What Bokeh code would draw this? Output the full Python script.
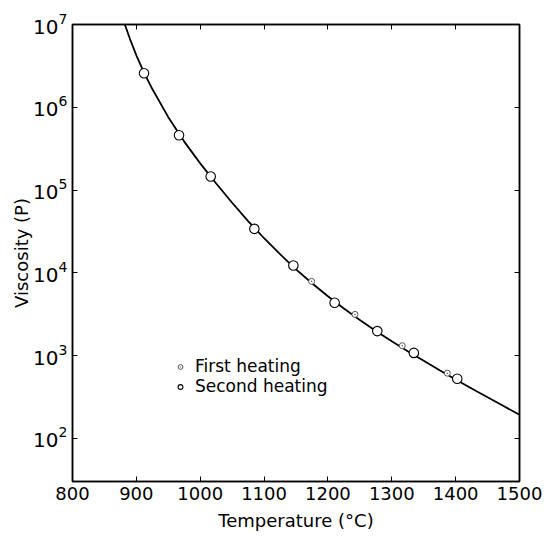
import math
from bokeh.plotting import figure
from bokeh.models import (FixedTicker, LinearAxis, LogAxis, Range1d, Legend, LegendItem,
                          CustomLabelingPolicy, ColumnDataSource)
from bokeh.core.properties import value
from bokeh.embed import file_html
from bokeh.resources import INLINE

# ---- data ----
first_T = [1174.5, 1242.3, 1316.4, 1386.9]
first_visc = [7.9e3, 3.15e3, 1.32e3, 6.15e2]

second_T = [912, 966.8, 1016.4, 1084.8, 1145.9, 1210.5, 1277.3, 1334.6, 1402.5]
second_visc = [2.58e6, 4.6e5, 1.46e5, 3.4e4, 1.23e4, 4.36e3, 1.98e3, 1.08e3, 5.26e2]

# fitted curve as traced on the picture
curve_T = [882, 890, 900, 912, 925, 950, 975, 1000, 1025, 1050, 1075, 1100, 1125, 1150,
           1175, 1200, 1225, 1250, 1275, 1300, 1325, 1350, 1375, 1400, 1425, 1450, 1475, 1500]
curve_visc = [1.0e7, 6.69e6, 4.24e6, 2.63e6, 1.66e6, 7.60e5, 3.85e5, 2.10e5, 1.20e5,
              7.03e4, 4.22e4, 2.62e4, 1.68e4, 1.10e4, 7.49e3, 5.21e3, 3.71e3, 2.70e3,
              1.99e3, 1.49e3, 1.13e3, 867, 667, 516, 402, 314, 246, 193]

x_ticks = [800, 900, 1000, 1100, 1200, 1300, 1400, 1500]
y_ticks = [1e2, 1e3, 1e4, 1e5, 1e6, 1e7]
y_tick_base = ["10"] * len(y_ticks)
y_tick_exp = [str(int(round(math.log10(t)))) for t in y_ticks]

FONT = "DejaVu Sans"

p = figure(width=544, height=539, output_backend="svg", toolbar_location=None,
           y_axis_type="log", x_range=Range1d(800, 1500), y_range=Range1d(30.2, 1e7),
           min_border_left=72, min_border_right=25, min_border_top=24, min_border_bottom=58)
p.grid.visible = False
p.outline_line_color = "black"
p.outline_line_width = 1.5
p.background_fill_color = "white"
p.border_fill_color = "white"

hide = CustomLabelingPolicy(code="""
for (let i = 0; i < indices.size; i++) { indices.unset(i) }
return indices
""")

xa = p.xaxis[0]
xa.ticker = FixedTicker(ticks=x_ticks)
xa.axis_label = "Temperature (°C)"
ya = p.yaxis[0]
ya.ticker = FixedTicker(ticks=y_ticks)
ya.major_label_policy = hide
ya.axis_label = "Viscosity (P)"

for ax in (xa, ya):
    ax.axis_line_width = 1.5
    ax.major_tick_in = 5
    ax.major_tick_out = 0
    ax.minor_tick_in = 0
    ax.minor_tick_out = 0
    ax.major_tick_line_width = 1
    ax.major_label_text_font = FONT
    ax.major_label_text_font_size = "18px"
    ax.major_label_text_color = "black"
    ax.axis_label_text_font = FONT
    ax.axis_label_text_font_size = "18px"
    ax.axis_label_text_font_style = "normal"
    ax.axis_label_text_color = "black"
xa.major_label_standoff = 5
xa.axis_label_standoff = 7
ya.axis_label_standoff = 2

top = LinearAxis(ticker=FixedTicker(ticks=x_ticks), major_label_policy=hide,
                 major_tick_in=5, major_tick_out=0, minor_tick_in=0, minor_tick_out=0,
                 axis_line_width=1.5)
right = LogAxis(ticker=FixedTicker(ticks=y_ticks), major_label_policy=hide,
                major_tick_in=5, major_tick_out=0, minor_tick_in=0, minor_tick_out=0,
                axis_line_width=1.5)
p.add_layout(top, "above")
p.add_layout(right, "right")

# y tick labels with real superscript exponents
lab = ColumnDataSource(dict(x=[x_ticks[0]] * len(y_ticks), y=y_ticks,
                            base=y_tick_base, exp=y_tick_exp))
p.text(x="x", y="y", text="base", source=lab, text_align="right", text_baseline="middle",
       x_offset=-14, y_offset=2, text_font=value(FONT), text_font_size="20px",
       text_color="black", level="overlay")
p.text(x="x", y="y", text="exp", source=lab, text_align="left", text_baseline="middle",
       x_offset=-14, y_offset=-6, text_font=value(FONT), text_font_size="14px",
       text_color="black", level="overlay")

p.line(curve_T, curve_visc, line_color="black", line_width=1.8)

r2 = p.scatter(second_T, second_visc, marker="circle", size=9.5, fill_color="white",
               line_color="black", line_width=1.1)
r1 = p.scatter(first_T, first_visc, marker="circle_dot", size=6, fill_color="white",
               line_color="#555555", line_width=1)

legend = Legend(items=[LegendItem(label="First heating", renderers=[r1]),
                       LegendItem(label="Second heating", renderers=[r2])],
                location=(102, 85), orientation="vertical")
legend.background_fill_alpha = 0
legend.border_line_alpha = 0
legend.padding = 0
legend.margin = 0
legend.spacing = 0
legend.glyph_width = 12
legend.glyph_height = 19
legend.label_height = 19
legend.label_standoff = 9
legend.label_text_font = FONT
legend.label_text_font_size = "17px"
legend.label_text_color = "black"
p.add_layout(legend, "center")

open("out.html", "w").write(file_html(p, INLINE))
